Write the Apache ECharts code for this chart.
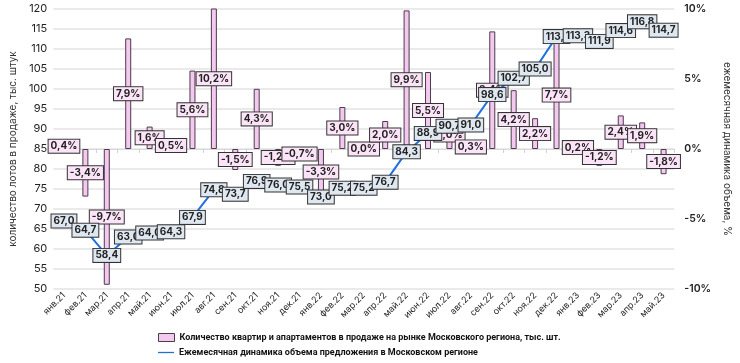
<!DOCTYPE html>
<html><head><meta charset="utf-8">
<script src="https://cdn.jsdelivr.net/npm/echarts@6/dist/echarts.min.js"></script>
<style>html,body{margin:0;padding:0;background:#fff}#c{width:740px;height:363px}</style>
</head><body><div id="c"></div>
<script>
const categories = ["янв.21","фев.21","мар.21","апр.21","май.21","июн.21","июл.21","авг.21","сен.21","окт.21","ноя.21","дек.21","янв.22","фев.22","мар.22","апр.22","май.22","июн.22","июл.22","авг.22","сен.22","окт.22","ноя.22","дек.22","янв.23","фев.23","мар.23","апр.23","май.23"];
const stockValues = [67.0,64.7,58.4,63.0,64.0,64.3,67.9,74.8,73.7,76.9,76.0,75.5,73.0,75.2,75.2,76.7,84.3,88.9,90.7,91.0,98.6,102.7,105.0,113.1,113.3,111.9,114.6,116.8,114.7];
const changePct = [0.4,-3.4,-9.7,7.9,1.6,0.5,5.6,10.2,-1.5,4.3,-1.2,-0.7,-3.3,3.0,0.0,2.0,9.9,5.5,2.0,0.3,8.4,4.2,2.2,7.7,0.2,-1.2,2.4,1.9,-1.8];
const leftTicks = {min:50, max:120, interval:5};
const rightTicks = {min:-10, max:10, interval:5};
const barName = "Количество квартир и апартаментов в продаже на рынке Московского региона, тыс. шт.";
const lineName = "Ежемесячная динамика объема предложения в Московском регионе";

const FONT = "Inter, 'Noto Sans', sans-serif";
const legendText = {fontFamily:"Roboto, sans-serif", fontSize:9, color:'#111', fontWeight:'bold'};
const chart = echarts.init(document.getElementById('c'), null, {renderer:'canvas'});
chart.setOption({
  animation:false,
  textStyle:{fontFamily:FONT},
  grid:{left:47, right:50, top:9, bottom:74},
  legend:[
    {orient:'horizontal', left:158, top:333, padding:0, itemWidth:16, itemHeight:8, itemGap:3, textStyle:legendText,
     data:[{name:barName, icon:'rect', itemStyle:{color:'#f5c8f0', borderColor:'#4a3d4a', borderWidth:1}}]},
    {orient:'horizontal', left:158, top:348, padding:0, itemWidth:16, itemHeight:8, textStyle:legendText,
     data:[{name:lineName, icon:'path://M0,3.2 L20,3.2 L20,4.8 L0,4.8 Z', itemStyle:{color:'#1f6fdc'}}]}
  ],
  xAxis:{
    type:'category', data:categories, boundaryGap:true,
    axisLine:{lineStyle:{color:'#d9d9d9'}},
    axisTick:{show:true, length:4, lineStyle:{color:'#d0d0d0'}},
    axisLabel:{rotate:45, fontSize:9, color:'#222', margin:5, interval:0, fontFamily:FONT}
  },
  yAxis:[
    {type:'value', min:leftTicks.min, max:leftTicks.max, interval:leftTicks.interval,
     name:'количество лотов в продаже, тыс. штук', nameLocation:'middle', nameGap:32, nameRotate:90,
     nameTextStyle:{fontSize:10, color:'#333', fontFamily:FONT},
     axisLine:{show:false}, axisTick:{show:false},
     axisLabel:{fontSize:11, color:'#222', margin:6, fontFamily:FONT},
     splitLine:{lineStyle:{color:'#e3e3e3', width:1.5}}},
    {type:'value', min:rightTicks.min, max:rightTicks.max, interval:rightTicks.interval, position:'right',
     name:'ежемесячная динамика объема, %', nameLocation:'middle', nameGap:36, nameRotate:-90,
     nameTextStyle:{fontSize:10, color:'#333', fontFamily:FONT},
     axisLine:{show:false}, axisTick:{show:false},
     axisLabel:{fontSize:10.5, color:'#222', margin:10, fontWeight:600, fontFamily:FONT, formatter:v=>v+'%'},
     splitLine:{show:false}}
  ],
  series:[
    {name:barName, type:'bar', yAxisIndex:1, data:changePct, barWidth:6,
     itemStyle:{color:'#f5c8f0', borderColor:'#4a3d4a', borderWidth:1},
     label:{show:true, position:'inside', formatter:p=>p.value.toFixed(1).replace('.',',')+'%',
       fontSize:10, fontWeight:'bold', color:'#222', fontFamily:FONT,
       backgroundColor:'#fce4f8', borderColor:'#333', borderWidth:1, padding:[2,2,1,2]}},
    {name:lineName, type:'line', yAxisIndex:0, data:stockValues, showSymbol:true, symbol:'circle', symbolSize:0,
     lineStyle:{color:'#1f6fdc', width:2}, itemStyle:{color:'#1f6fdc'},
     label:{show:true, position:'inside', formatter:p=>p.value.toFixed(1).replace('.',','),
       fontSize:10, fontWeight:'bold', color:'#222', fontFamily:FONT,
       backgroundColor:'#dfe7f0', borderColor:'#333', borderWidth:1, padding:[2,2,1,2]}}
  ]
});
</script></body></html>
